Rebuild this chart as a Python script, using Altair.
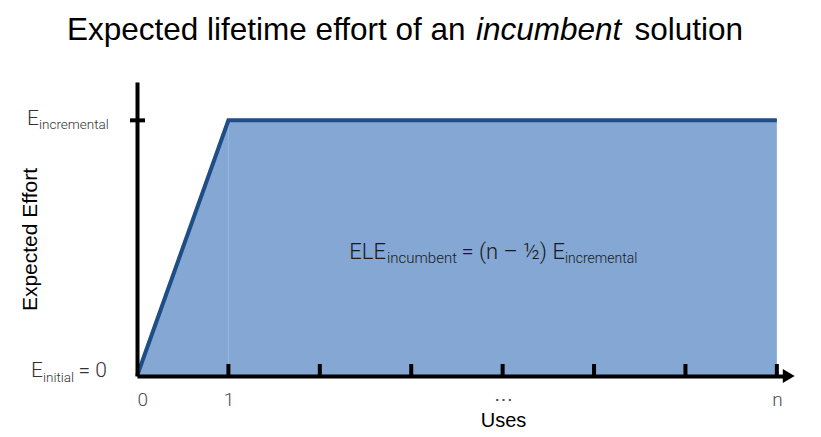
import altair as alt
import pandas as pd

# ---- data ----
E_INC = 1.0                      # E_incremental level
N_USES = 7                       # position of "n" on the uses axis
uses = [0, 1, N_USES]            # area / outline x values
effort = [0.0, E_INC, E_INC]     # area / outline y values
tick_uses = [1, 2, 3, 4, 5, 6, 7]
label_values = [0, 1, 4, 7]
label_texts = ["0", "1", "⋯", "n"]
title_parts = ["Expected lifetime effort of an", "incumbent", "solution"]

X_MAX = 7.1
Y_MAX = 1.15
W, H = 649, 294

xs = alt.Scale(domain=[0, X_MAX], nice=False, zero=False)
ys = alt.Scale(domain=[0, Y_MAX], nice=False, zero=False)

expr = " : ".join(
    f"datum.value == {v} ? '{t}'" for v, t in zip(label_values, label_texts)
) + " : ''"

LIGHT = "Roboto"
REG = "Liberation Sans"

x_axis = alt.Axis(
    values=label_values, labelExpr=expr, ticks=False, tickSize=0, grid=False,
    domainColor="black", domainWidth=4, labelFont=LIGHT, labelFontWeight=300,
    labelFontSize=19, labelColor="#4d4d4d", labelPadding=14,
    title="Uses", titleFont=REG, titleFontSize=20, titleFontWeight="normal",
    titleColor="black", titlePadding=1, titleX=366, zindex=1,
)
y_axis = alt.Axis(
    values=[E_INC], labels=False, ticks=False, tickSize=0, grid=False,
    domainColor="black", domainWidth=4,
    title="Expected Effort", titleFont=REG, titleFontSize=21,
    titleFontWeight="normal", titleColor="black", titlePadding=97,
    titleY=157, zindex=1,
)

X = lambda f="uses:Q": alt.X(f, scale=xs, axis=x_axis)
Y = lambda f="effort:Q": alt.Y(f, scale=ys, axis=y_axis)

df = pd.DataFrame({"uses": uses, "effort": effort})

area = alt.Chart(df).mark_area(color="#84a7d3", opacity=1).encode(x=X(), y=Y())

inner = alt.Chart(pd.DataFrame({"uses": [uses[1]], "effort": [0.0], "top": [E_INC]})).mark_rule(
    color="#9ab6de", strokeWidth=1
).encode(x=X(), y=Y(), y2="top:Q")

outline = alt.Chart(df).mark_line(
    color="#1f4d85", strokeWidth=4, strokeJoin="miter", strokeCap="butt"
).encode(x=X(), y=Y())

tick_h = 12 / H * Y_MAX
ticks = alt.Chart(pd.DataFrame({"uses": tick_uses, "effort": [0.0] * len(tick_uses),
                                "top": [tick_h] * len(tick_uses)})).mark_rule(
    color="black", strokeWidth=4
).encode(x=X(), y=Y(), y2="top:Q")

ytick = alt.Chart(pd.DataFrame({"effort": [E_INC]})).mark_rule(
    color="black", strokeWidth=4
).encode(y=Y(), x=alt.value(-7), x2=alt.value(8))

arrow = alt.Chart(pd.DataFrame({"uses": [7.13], "effort": [0.0]})).mark_point(
    shape="M -0.85 -1 L 0.85 0 L -0.85 1 Z", filled=True, color="black",
    opacity=1, size=196
).encode(x=X(), y=Y())


def txt(x, y, text, dx=0, dy=0, size=20, weight=300, style="normal",
        align="left", color="#333333", font=LIGHT):
    return alt.Chart(pd.DataFrame({"uses": [x], "effort": [y], "t": [text]})).mark_text(
        dx=dx, dy=dy, fontSize=size, fontWeight=weight, fontStyle=style,
        align=align, baseline="alphabetic", color=color, font=font
    ).encode(x=X(), y=Y(), text="t:N")


def ptxt(x, y, text, size=31.5, style="normal", align="left"):
    return alt.Chart(pd.DataFrame({"t": [text]})).mark_text(
        fontSize=size, fontStyle=style, align=align, baseline="alphabetic",
        color="black", font=REG
    ).encode(x=alt.value(x), y=alt.value(y), text="t:N")


mid_x = N_USES / 2
mid_y = E_INC / 2
FC = "#1a1a1a"
texts = [
    # y labels
    txt(0, E_INC, "E", dx=-98, dy=5, size=21, align="right"),
    txt(0, E_INC, "incremental", dx=-98, dy=9, size=13.5),
    txt(0, 0, "E", dx=-94, dy=1, size=21, align="right"),
    txt(0, 0, "initial", dx=-94, dy=6, size=13.5),
    txt(0, 0, "= 0", dx=-30, dy=1, size=21, align="right"),
    # formula
    txt(mid_x, mid_y, "ELE", dx=-71, dy=11, size=22, align="right", color=FC),
    txt(mid_x, mid_y, "incumbent", dx=-70, dy=15, size=15, color=FC),
    txt(mid_x, mid_y, "= (n – ½) E", dx=108, dy=11, size=22, align="right", color=FC),
    txt(mid_x, mid_y, "incremental", dx=108, dy=15, size=14, color=FC),
    # title (positions relative to plot origin)
    ptxt(67 - 137, 40 - 82, title_parts[0]),
    ptxt(476 - 137, 40 - 82, title_parts[1], style="italic"),
    ptxt(743 - 137, 40 - 82, title_parts[2], align="right"),
]

chart = alt.layer(area, inner, outline, ticks, ytick, arrow, *texts).properties(
    width=W, height=H,
    autosize=alt.AutoSizeParams(type="none"),
    padding={"left": 129, "top": 74, "right": 20, "bottom": 58},
).configure_view(stroke=None)

chart.save("out.html", embed_options={"renderer": "svg", "actions": False})
